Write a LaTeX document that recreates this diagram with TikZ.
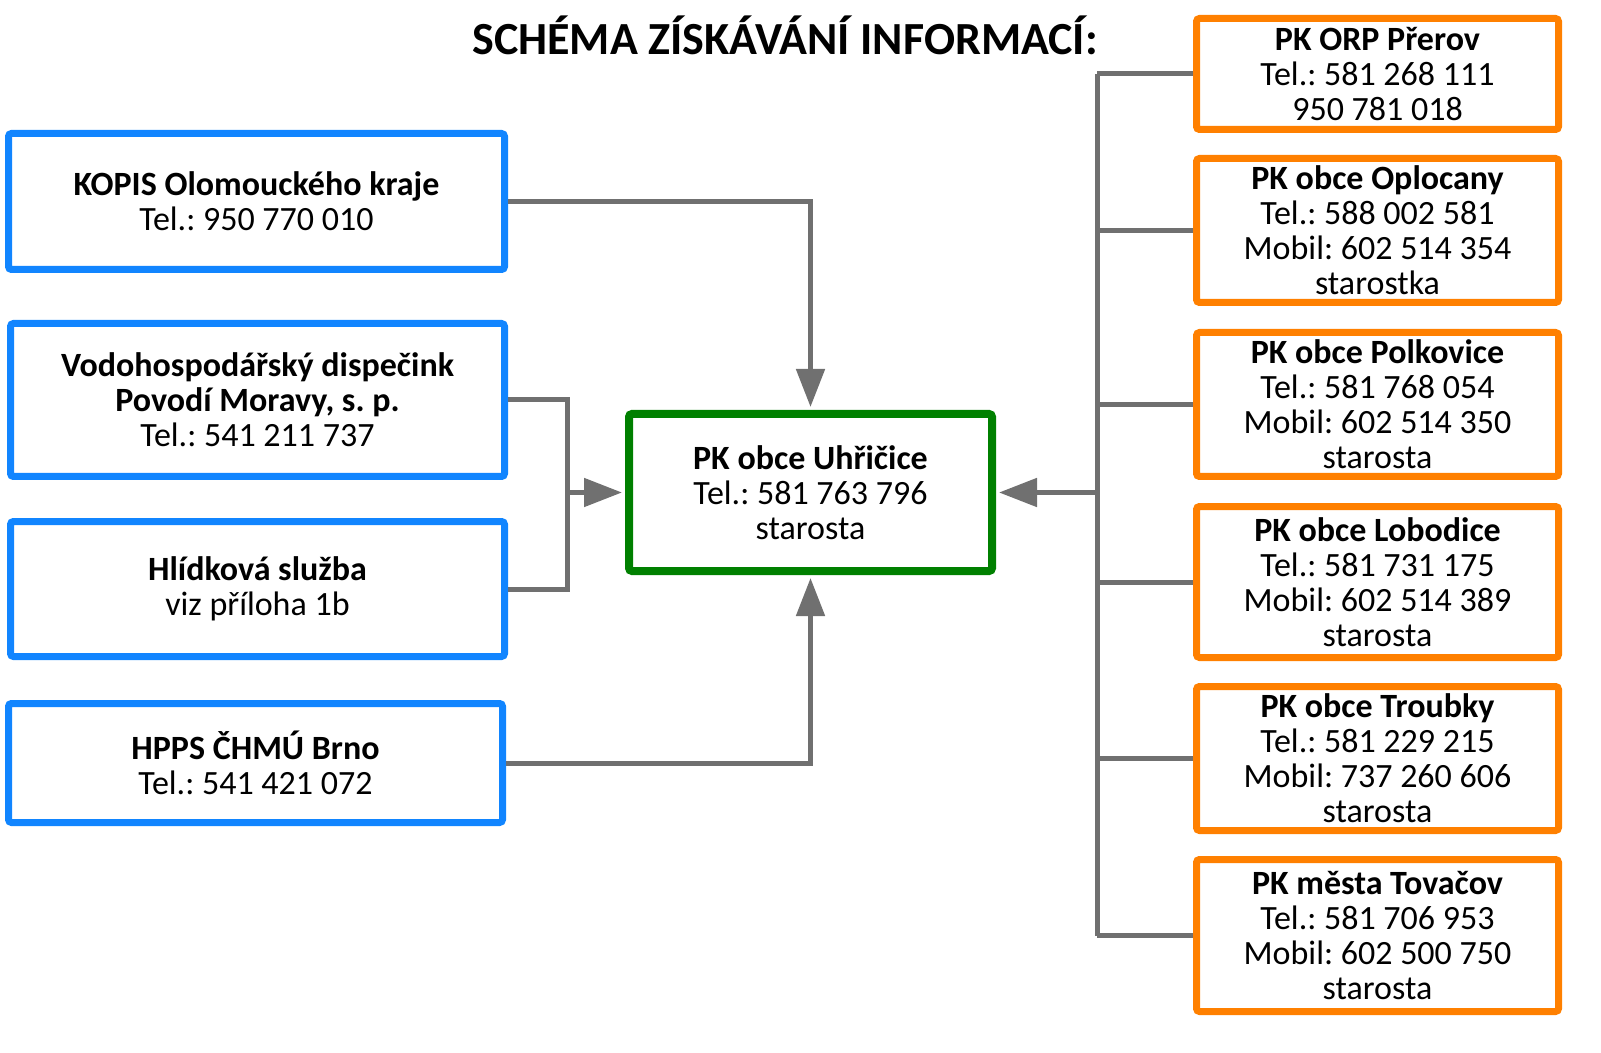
\documentclass[tikz,border=0pt]{standalone}
\usepackage{fontspec}
\setmainfont{Carlito}
\usetikzlibrary{arrows.meta}
\frenchspacing

\definecolor{boxblue}{RGB}{17,133,255}
\definecolor{boxorange}{RGB}{255,128,0}
\definecolor{boxgreen}{RGB}{0,128,0}
\definecolor{linkgray}{RGB}{112,112,112}

\begin{document}
\begin{tikzpicture}[x=0.5pt, y=-0.5pt,
  infobox/.style={draw, line width=3.5pt, rounded corners=1.5pt, fill=white,
    align=center, inner sep=0pt, font=\fontsize{17}{17.5}\selectfont},
  srcbox/.style={infobox, draw=boxblue, minimum width=247pt},
  obecbox/.style={infobox, draw=boxorange, minimum width=181pt},
  mainbox/.style={infobox, draw=boxgreen, line width=4pt, minimum width=181.5pt, minimum height=78.5pt},
  link/.style={draw=linkgray, line width=2.5pt},
  linkarrow/.style={link, -{Triangle[length=19pt, width=14pt]}, shorten >=1.5pt}]

\useasboundingbox (0,0) rectangle (1601,1053);

% Title
\node[font=\fontsize{23}{26}\selectfont\bfseries] (title) at (785,35) {SCHÉMA ZÍSKÁVÁNÍ INFORMACÍ:};

% Central box
\node[mainbox] (uhr) at (810.5,492.5) {\textbf{PK obce Uhřičice}\\Tel.: 581 763 796\\starosta};

% Sources on the left
\node[srcbox, minimum width=248pt, minimum height=68pt] (kopis) at (256.5,201.5) {\textbf{KOPIS Olomouckého kraje}\\Tel.: 950 770 010};
\node[srcbox, minimum height=76.5pt] (vodo) at (257.5,400) {\textbf{Vodohospodářský dispečink}\\\textbf{Povodí Moravy, s. p.}\\Tel.: 541 211 737};
\node[srcbox, minimum height=67.5pt] (hlid) at (257.5,589) {\textbf{Hlídková služba}\\viz příloha 1b};
\node[srcbox, minimum height=59.5pt] (hpps) at (255.5,763) {\textbf{HPPS ČHMÚ Brno}\\Tel.: 541 421 072};

% Municipalities on the right
\node[obecbox, minimum height=55.5pt] (orp) at (1377.5,74) {\textbf{PK ORP Přerov}\\Tel.: 581 268 111\\950 781 018};
\node[obecbox, minimum height=72pt] (oplo) at (1377.5,230.5) {\textbf{PK obce Oplocany}\\Tel.: 588 002 581\\Mobil: 602 514 354\\starostka};
\node[obecbox, minimum height=72pt] (polk) at (1377.5,404.5) {\textbf{PK obce Polkovice}\\Tel.: 581 768 054\\Mobil: 602 514 350\\starosta};
\node[obecbox, minimum height=75.5pt] (lobo) at (1377.5,582) {\textbf{PK obce Lobodice}\\Tel.: 581 731 175\\Mobil: 602 514 389\\starosta};
\node[obecbox, minimum height=72pt] (trou) at (1377.5,758.5) {\textbf{PK obce Troubky}\\Tel.: 581 229 215\\Mobil: 737 260 606\\starosta};
\node[obecbox, minimum height=76pt] (tova) at (1377.5,935.5) {\textbf{PK města Tovačov}\\Tel.: 581 706 953\\Mobil: 602 500 750\\starosta};

% Left connectors
\coordinate (lbus) at (567,492.5);
\draw[linkarrow] (kopis.east) -| (uhr.north);
\draw[linkarrow] (hpps.east) -| (uhr.south);
\draw[link] (vodo.east) -| (lbus) |- (hlid.east);
\draw[linkarrow] (lbus) -- (uhr.west);

% Right connectors
\coordinate (rbus) at (1097,492.5);
\draw[link] (rbus |- orp.west) -- (rbus |- tova.west);
\foreach \obec in {orp, oplo, polk, lobo, trou, tova}
  \draw[link] (rbus |- \obec.west) -- (\obec.west);
\draw[linkarrow] (rbus) -- (uhr.east);

\end{tikzpicture}
\end{document}
